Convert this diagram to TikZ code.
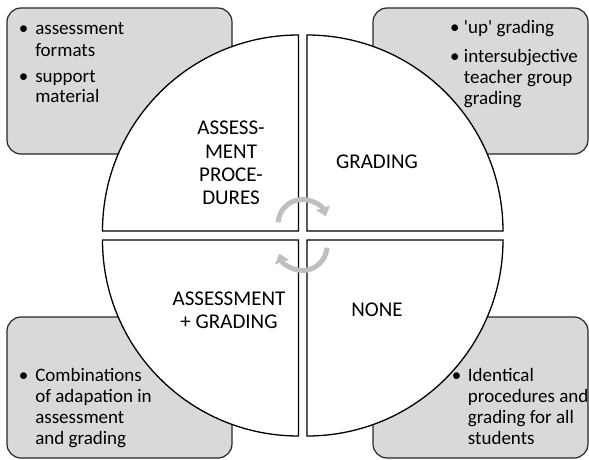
\documentclass[tikz,border=0pt]{standalone}
\usepackage{fontspec}
\setmainfont{Carlito}[Ligatures=TeXOff]
\usepackage{tikz}
\usetikzlibrary{arrows.meta}
\definecolor{boxgray}{HTML}{D9D9D9}
\definecolor{arrowgray}{HTML}{BFBFBF}

\begin{document}
\begin{tikzpicture}[x=1pt, y=1pt,
	infobox/.style={draw=black!85, fill=boxgray, line width=1.2pt, rounded corners=14pt, inner sep=0pt},
	quad/.style={draw=black, fill=white, line width=1.3pt},
	quadlabel/.style={font=\fontsize{21}{23.3}\selectfont, align=center, inner sep=0pt},
	listtext/.style={font=\fontsize{19}{21}\selectfont, inner sep=0pt, anchor=base west},
	cyclearrow/.style={draw=arrowgray, line width=5pt, -{Triangle[width=14pt,length=9pt]}}]
	\useasboundingbox (0,0) rectangle (589,459);
	\node[infobox, minimum width=225pt, minimum height=146pt] (formatbox) at (119.5,378) {};
	\node[infobox, minimum width=215pt, minimum height=146pt] (gradebox) at (480.5,378) {};
	\node[infobox, minimum width=225pt, minimum height=141pt] (combibox) at (119.5,71.5) {};
	\node[infobox, minimum width=215pt, minimum height=141pt] (nonebox) at (480.5,71.5) {};
	\foreach \cx/\cy/\a in {298.5/228/90, 307/228/0, 298.5/219/180, 307/219/270}
		\draw[quad] (\cx,\cy) -- ++(\a:196) arc[start angle=\a, delta angle=90, radius=196] -- cycle;
	\draw[cyclearrow] (302.5,235) ++(176:24.5) arc[start angle=176, end angle=18, radius=24.5];
	\draw[cyclearrow] (302.5,213) ++(-4:24.5) arc[start angle=-4, end angle=-162, radius=24.5];
	\node[quadlabel] (proclabel) at (231,296) {ASSESS-\\MENT\\PROCE-\\DURES};
	\node[quadlabel] (gradelabel) at (377,297) {GRADING};
	\node[quadlabel] (bothlabel) at (229,149) {ASSESSMENT\\+ GRADING};
	\node[quadlabel] (nonelabel) at (377,149) {NONE};
	\node[listtext] (formatlist) at (18.6,424) {\begin{tabular}[t]{@{}l@{\hspace{7pt}}l@{}}
		\textbullet & assessment\\ & formats\\[5pt]
		\textbullet & support\\ & material\end{tabular}};
	\node[listtext] (gradelist) at (449.9,425) {\begin{tabular}[t]{@{}l@{\hspace{4.4pt}}l@{}}
		\textbullet & 'up' grading\\[8pt]
		\textbullet & intersubjective\\ & teacher group\\ & grading\end{tabular}};
	\node[listtext] (combilist) at (18.6,78) {\begin{tabular}[t]{@{}l@{\hspace{7pt}}l@{}}
		\textbullet & Combinations\\ & of adapation in\\ & assessment\\ & and grading\end{tabular}};
	\node[listtext] (nonelist) at (451.6,78) {\begin{tabular}[t]{@{}l@{\hspace{6.7pt}}l@{}}
		\textbullet & Identical\\ & procedures and\\ & grading for all\\ & students\end{tabular}};
\end{tikzpicture}
\end{document}
